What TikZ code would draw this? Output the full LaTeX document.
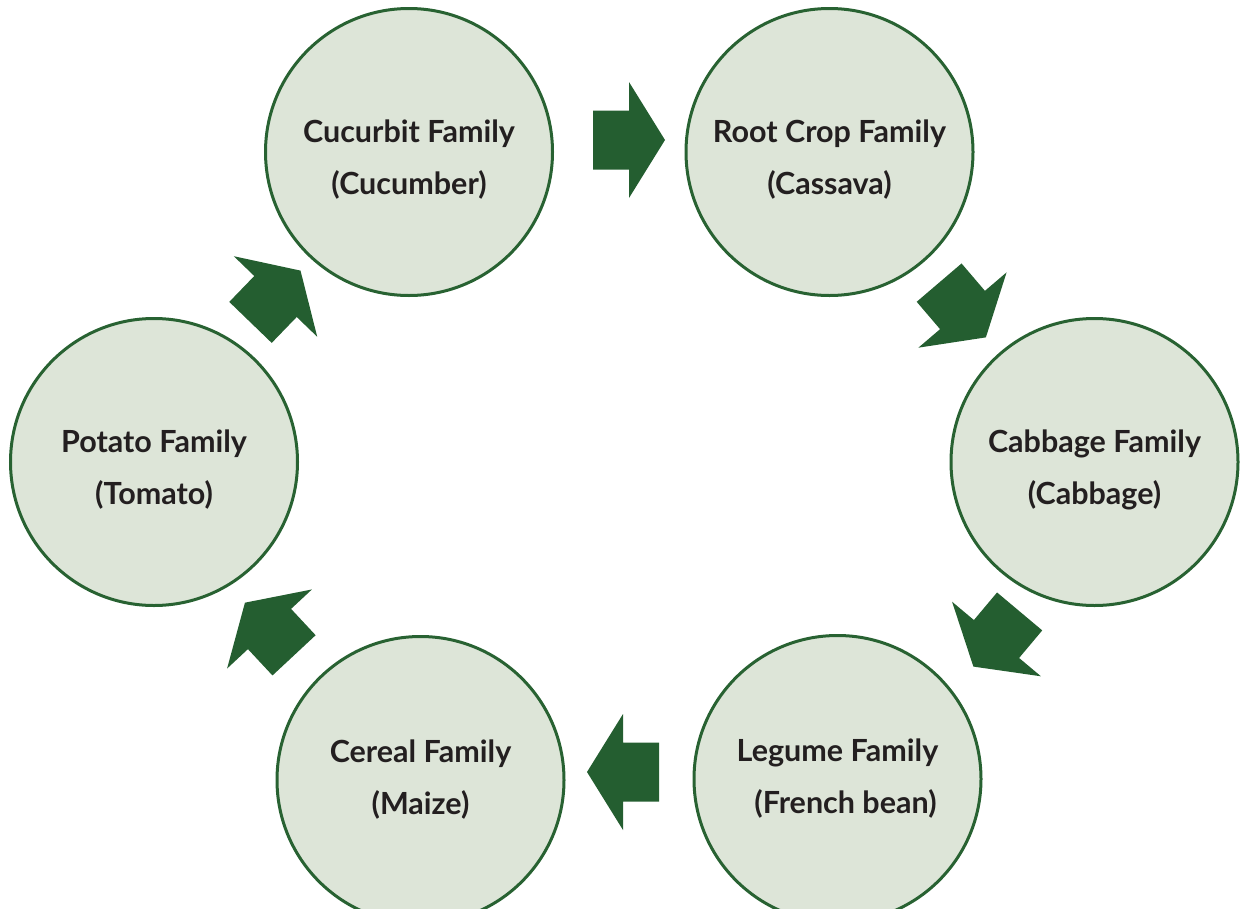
\documentclass[tikz,border=0pt]{standalone}
\usepackage{fontspec}
\setmainfont{Lato}
\usepackage{tikz}
\definecolor{circle_fill}{RGB}{221,229,216}
\definecolor{circle_edge}{RGB}{40,98,50}
\definecolor{arrow_green}{RGB}{36,94,48}
\definecolor{label_gray}{RGB}{35,31,32}
\tikzset{
  blockarrow/.pic={
    \fill[arrow_green] (-36,-29.5) -- (0,-29.5) -- (0,-58) -- (36,0)
      -- (0,58) -- (0,29.5) -- (-36,29.5) -- cycle;
  }
}

\begin{document}
\begin{tikzpicture}[x=1pt,y=-1pt]
    \tikzstyle{family}=[circle, draw=circle_edge, line width=3pt, fill=circle_fill, minimum size=287pt, inner sep=0pt, text=label_gray, align=center, font=\fontsize{30.5}{52}\selectfont\bfseries]
    \tikzstyle{familylow}=[style=family, text height=90pt]

    \useasboundingbox (0,0) rectangle (1240,908);
    \clip (0,0) rectangle (1240,908);

    \node[familylow] (cucurbit) at (409,152)   {Cucurbit Family\\(Cucumber)};
    \node[familylow] (root)     at (829.5,152) {Root Crop Family\\(Cassava)};
    \node[familylow] (cabbage)  at (1094.5,462){Cabbage Family\\(Cabbage)};
    \node[family]    (legume)   at (837.5,779) {Legume Family\\\hspace*{16pt}(French bean)};
    \node[family]    (cereal)   at (420.5,780) {Cereal Family\\(Maize)};
    \node[familylow] (potato)   at (154,462)   {Potato Family\\(Tomato)};

    % rotation cycle
    \pic[rotate=0]     at (629,140)     {blockarrow};
    \pic[rotate=-49.5] at (962.5,310)   {blockarrow};
    \pic[rotate=-130]  at (996.5,639)   {blockarrow};
    \pic[rotate=180]   at (623,772)     {blockarrow};
    \pic[rotate=133]   at (269.5,629)   {blockarrow};
    \pic[rotate=46]    at (275.5,296.5) {blockarrow};
\end{tikzpicture}
\end{document}
